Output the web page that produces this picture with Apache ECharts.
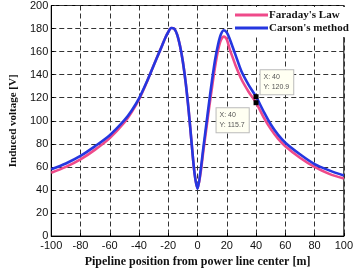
<!DOCTYPE html>
<html>
<head>
<meta charset="utf-8">
<script src="https://cdn.jsdelivr.net/npm/echarts@6/dist/echarts.min.js"></script>
<style>html,body{margin:0;padding:0;background:#fff;}#c{width:356px;height:273px;}</style>
</head>
<body>
<div id="c"></div>
<script>
var positions = [-100,-90,-80,-70,-60,-50,-45,-40,-35,-30,-26,-24,-22,-20,-18,-16,-14,-12,-10,-8,-6,-4,-2,0,2,4,6,8,10,12,14,16,18,20,22,24,26,30,35,40,45,50,55,60,70,80,90,100];
var faradayY = [55,60,66.5,75,85,98.5,107.5,118.5,132.5,148,160,166,172,177,180.5,180,175,165,151,132,108,80,54,41.5,54,74,93,112,130,147,161,170,173,170.5,162,155,148,136,125,115.7,103.5,93,84.5,78,68,60,54,50];
var carsonY = [58,63,69.5,78,87.5,100.5,109,119.5,133,148,160,166,172,177,180.5,180,175,165,151,132,108,80,54,41,56,77,97,117,136,153,166,175,178.5,176.5,171,164,157,143,131,120.9,108.5,97,88,81,71,62.5,57,52.5];
var xTicks = {min:-100, max:100, step:20};
var yTicks = {min:0, max:200, step:20};
var tipX = 40;
var tipCarson = 120.9;
var tipFaraday = 115.7;

function pairs(xs, ys){ return xs.map(function(x,i){ return [x, ys[i]]; }); }

var serif = 'Liberation Serif';
var sans = 'Liberation Sans';
var chart = echarts.init(document.getElementById('c'), null, {renderer:'canvas'});
chart.setOption({
  animation:false,
  backgroundColor:'#fff',
  grid:{left:37, right:7, top:5, bottom:28, show:true, borderColor:'#000', borderWidth:1, backgroundColor:'#fff'},
  legend:{
    orient:'vertical', left:233, top:7, itemWidth:33, itemHeight:3, itemGap:1,
    icon:'rect', backgroundColor:'#fff', padding:[2,3,3,2],
    textStyle:{fontFamily:serif, fontWeight:'bold', fontSize:11, color:'#111', lineHeight:12, padding:[0,0,0,-4]},
    data:["Faraday's Law","Carson's method"]
  },
  xAxis:{
    type:'value', min:xTicks.min, max:xTicks.max, interval:xTicks.step,
    name:'Pipeline position from power line center [m]', nameLocation:'middle', nameGap:16,
    nameTextStyle:{fontFamily:serif, fontWeight:'bold', fontSize:12, color:'#111'},
    axisLine:{onZero:false, lineStyle:{color:'#000'}}, axisTick:{inside:true, length:3, lineStyle:{color:'#000'}},
    axisLabel:{fontFamily:sans, fontSize:11, color:'#111', margin:4},
    splitLine:{lineStyle:{color:'#333', type:[5,3], width:1}}
  },
  yAxis:{
    type:'value', min:yTicks.min, max:yTicks.max, interval:yTicks.step,
    name:'Induced voltage [V]', nameLocation:'middle', nameGap:29,
    nameTextStyle:{fontFamily:serif, fontWeight:'bold', fontSize:11, color:'#111'},
    axisLine:{onZero:false, lineStyle:{color:'#000'}}, axisTick:{inside:true, length:3, lineStyle:{color:'#000'}},
    axisLabel:{fontFamily:sans, fontSize:11, color:'#111', margin:3},
    splitLine:{lineStyle:{color:'#333', type:[5,3], width:1}}
  },
  series:[
    {name:"Faraday's Law", type:'line', data:pairs(positions, faradayY), smooth:0.3, showSymbol:false,
     lineStyle:{color:'#ef4a8a', width:2.6}, itemStyle:{color:'#ef4a8a'},
     markPoint:{symbol:'rect', symbolSize:5, itemStyle:{color:'#000'},
       data:[{coord:[tipX, tipFaraday]}],
       label:{show:true, position:[-37,8], formatter:'X: '+tipX+'\nY: '+tipFaraday, fontFamily:sans, fontSize:7, color:'#555', lineHeight:10,
         backgroundColor:'#fffff2', borderColor:'#bbb', borderWidth:1, padding:[2,4,2,3], align:'left', verticalAlign:'top'}}},
    {name:"Carson's method", type:'line', data:pairs(positions, carsonY), smooth:0.3, showSymbol:false,
     lineStyle:{color:'#2536e0', width:2.6}, itemStyle:{color:'#2536e0'},
     markPoint:{symbol:'rect', symbolSize:5, itemStyle:{color:'#000'},
       data:[{coord:[tipX, tipCarson]}],
       label:{show:true, position:[7,-24], formatter:'X: '+tipX+'\nY: '+tipCarson, fontFamily:sans, fontSize:7, color:'#555', lineHeight:10,
         backgroundColor:'#fffff2', borderColor:'#bbb', borderWidth:1, padding:[2,4,2,3], align:'left', verticalAlign:'top'}}}
  ]
});
</script>
</body>
</html>
